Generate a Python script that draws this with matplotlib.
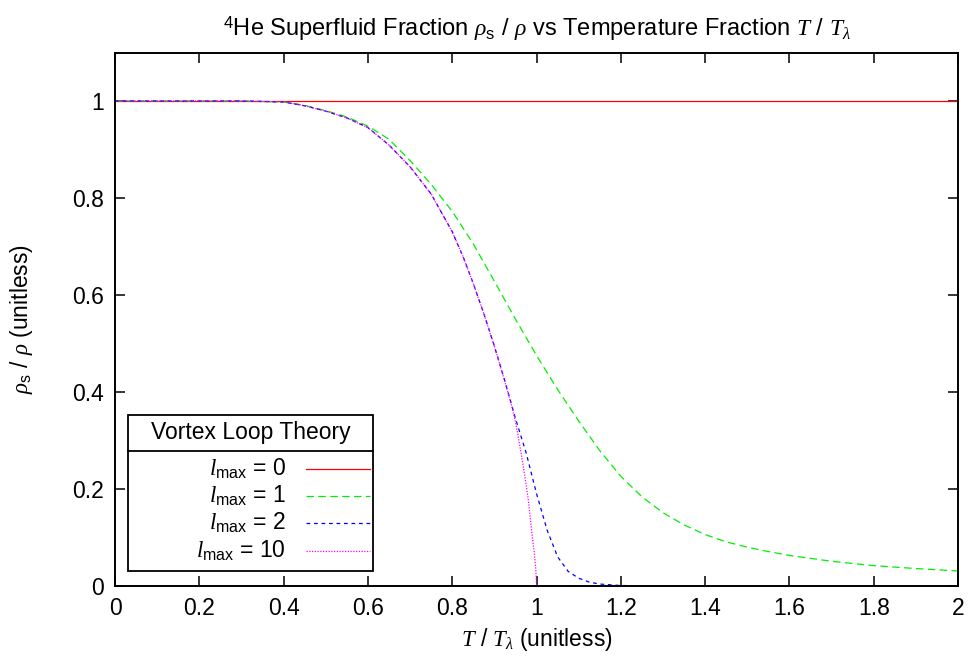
import matplotlib
matplotlib.use("Agg")
import matplotlib.pyplot as plt
from matplotlib.lines import Line2D
from matplotlib.patches import Rectangle

plt.rcParams['font.family'] = ['Liberation Sans', 'DejaVu Sans']
plt.rcParams['mathtext.fontset'] = 'custom'
plt.rcParams['mathtext.rm'] = 'Liberation Sans'
plt.rcParams['mathtext.it'] = 'Liberation Serif:italic'
plt.rcParams['mathtext.sf'] = 'Liberation Sans'

# ---- data ----
x_l0 = [0.0, 2.0]
y_l0 = [1.0, 1.0]

x_l1 = [0.0, 0.2, 0.3, 0.4, 0.45, 0.5, 0.55, 0.6, 0.65, 0.7, 0.75, 0.8, 0.85,
        0.9, 0.95, 1.0, 1.05, 1.1, 1.15, 1.2, 1.25, 1.3, 1.35, 1.4, 1.45,
        1.5, 1.55, 1.6, 1.7, 1.8, 1.9, 2.0]
y_l1 = [1.0, 1.0, 1.0, 0.998, 0.991, 0.98, 0.967, 0.948, 0.921, 0.877, 0.828,
        0.772, 0.705, 0.628, 0.55, 0.475, 0.405, 0.34, 0.279, 0.226, 0.184,
        0.151, 0.126, 0.106, 0.091, 0.080, 0.071, 0.063, 0.051, 0.042, 0.036,
        0.031]

x_l2 = [0.0, 0.3, 0.4, 0.45, 0.5, 0.55, 0.6, 0.65, 0.7, 0.75, 0.8, 0.825,
        0.85, 0.875, 0.9, 0.925, 0.95, 0.975, 1.0, 1.025, 1.05, 1.075, 1.1,
        1.125, 1.15, 1.2, 1.3, 2.0]
y_l2 = [1.0, 1.0, 0.998, 0.99, 0.979, 0.965, 0.945, 0.909, 0.864, 0.808,
        0.73, 0.68, 0.623, 0.561, 0.494, 0.422, 0.345, 0.275, 0.19, 0.115,
        0.06, 0.03, 0.016, 0.008, 0.004, 0.001, 0.0, 0.0]

x_l10 = [0.0, 0.3, 0.4, 0.45, 0.5, 0.55, 0.6, 0.65, 0.7, 0.75, 0.8, 0.825,
         0.85, 0.875, 0.9, 0.925, 0.94, 0.95, 0.96, 0.97, 0.98, 0.99, 0.995,
         0.998, 1.0, 2.0]
y_l10 = [1.0, 1.0, 0.998, 0.99, 0.979, 0.965, 0.945, 0.909, 0.864, 0.808,
         0.73, 0.68, 0.623, 0.561, 0.494, 0.42, 0.374, 0.338, 0.29, 0.238,
         0.18, 0.10, 0.065, 0.035, 0.0, 0.0]

labels = [r"$l_{\mathrm{max}}$ = 0", r"$l_{\mathrm{max}}$ = 1",
          r"$l_{\mathrm{max}}$ = 2", r"$l_{\mathrm{max}}$ = 10"]
legend_title = "Vortex Loop Theory"
xticks = [0, 0.2, 0.4, 0.6, 0.8, 1, 1.2, 1.4, 1.6, 1.8, 2]
xticklabels = ["0", "0.2", "0.4", "0.6", "0.8", "1", "1.2", "1.4", "1.6", "1.8", "2"]
yticks = [0, 0.2, 0.4, 0.6, 0.8, 1]
yticklabels = ["0", "0.2", "0.4", "0.6", "0.8", "1"]

# ---- figure ----
fig = plt.figure(figsize=(9.72, 6.62), dpi=100)
ax = fig.add_axes([115.2 / 972, (662 - 586) / 662, 842.8 / 972, 533.5 / 662])

styles = [
    dict(color='#ff0000', linestyle='-'),
    dict(color='#00ee00', linestyle=(0, (6, 3.5))),
    dict(color='#0000ff', linestyle=(0, (3, 3))),
    dict(color='#ff00ff', linestyle=(0, (1, 1.2))),
]
series = [(x_l0, y_l0), (x_l1, y_l1), (x_l2, y_l2), (x_l10, y_l10)]
for (xs, ys), st in zip(series, styles):
    ax.plot(xs, ys, linewidth=0.9, zorder=2, **st)

FS = 16.5
ax.set_xlim(0, 2)
ax.set_ylim(0, 1.1)
ax.set_xticks(xticks)
ax.set_xticklabels(xticklabels)
ax.set_yticks(yticks)
ax.set_yticklabels(yticklabels)
ax.tick_params(direction='in', length=7, width=1.1, labelsize=FS,
               top=True, right=True, pad=8, colors='black')
for sp in ax.spines.values():
    sp.set_linewidth(1.4)
    sp.set_zorder(5)

ax.set_xlabel(r"$T$ / $T_\lambda$ (unitless)", fontsize=FS, labelpad=4)
ax.set_ylabel(r"$\rho_{\mathrm{s}}$ / $\rho$ (unitless)", fontsize=FS, labelpad=27)
ax.set_title(r"$^{\mathrm{4}}$He Superfluid Fraction $\rho_{\mathrm{s}}$ / $\rho$ vs Temperature Fraction $T$ / $T_\lambda$",
             fontsize=17, pad=12)

# ---- legend drawn as a gnuplot-style key ----
def fx(px):
    return (px - 115.2) / 842.8

def fy(py):
    return (586 - py) / 533.5

box_l, box_r, box_t, box_b, sep = fx(128), fx(373), fy(415), fy(571), fy(451)
ax.add_patch(Rectangle((box_l, box_b), box_r - box_l, box_t - box_b,
                       transform=ax.transAxes, facecolor='white',
                       edgecolor='black', linewidth=1.3, zorder=6))
ax.add_line(Line2D([box_l, box_r], [sep, sep], transform=ax.transAxes,
                   color='black', linewidth=1.3, zorder=7))
ax.text((box_l + box_r) / 2, fy(433), legend_title, transform=ax.transAxes,
        ha='center', va='center', fontsize=FS, zorder=8)
rows = [469, 496, 523, 551]
for lab, st, ry in zip(labels, styles, rows):
    ax.text(fx(286), fy(ry), lab, transform=ax.transAxes, ha='right',
            va='center', fontsize=FS, zorder=8)
    ax.add_line(Line2D([fx(306), fx(370)], [fy(ry), fy(ry)],
                       transform=ax.transAxes, linewidth=0.9, zorder=8, **st))

fig.savefig("out.png", dpi=100)
